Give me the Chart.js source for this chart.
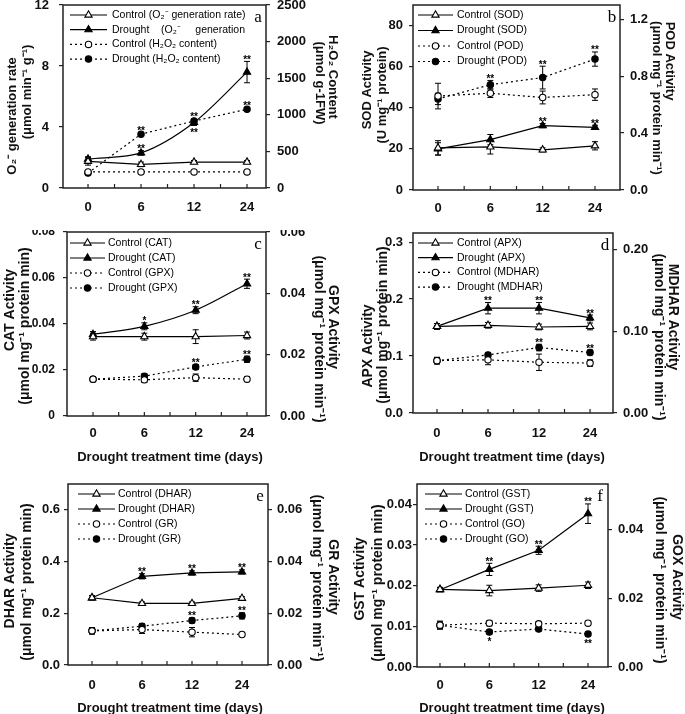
<!DOCTYPE html>
<html>
<head>
<meta charset="utf-8">
<script src="https://cdn.jsdelivr.net/npm/chart.js@4.4.1/dist/chart.umd.min.js"></script>
<style>
  body { margin: 0; background: #fff; width: 685px; height: 714px; position: relative; overflow: hidden; }
  canvas { position: absolute; }
</style>
</head>
<body>
<canvas id="pa" width="342" height="230" style="left:0;top:0"></canvas>
<canvas id="pb" width="343" height="230" style="left:342px;top:0"></canvas>
<canvas id="pc" width="342" height="240" style="left:0;top:230px"></canvas>
<canvas id="pd" width="343" height="240" style="left:342px;top:230px"></canvas>
<canvas id="pe" width="342" height="244" style="left:0;top:470px"></canvas>
<canvas id="pf" width="343" height="244" style="left:342px;top:470px"></canvas>
<script>
// drought treatment time (days)
const days = ['0', '6', '12', '24'];
const xTicks = [0, 0.5, 1, 1.5, 2, 2.5, 3];

// a - O2- generation rate (left) / H2O2 content (right)
const ctrlO2 = [1.75, 1.55, 1.7, 1.7];
const ctrlO2Err = [0.25, 0.15, 0.1, 0.1];
const drO2 = [1.9, 2.3, 4.3, 7.6];
const drO2Err = [0.15, 0.15, 0.2, 0.7];
const drO2Stars = ['', '**', '**', '**'];
const ctrlH2O2 = [220, 220, 220, 220];
const ctrlH2O2Err = [10, 10, 10, 10];
const drH2O2 = [205, 735, 915, 1075];
const drH2O2Err = [15, 20, 30, 20];
const drH2O2Stars = ['', '**', '**', '**'];
const yTicksA = [0, 4, 8, 12];
const y2TicksA = [0, 500, 1000, 1500, 2000, 2500];

// b - SOD (left) / POD (right)
const ctrlSOD = [20.5, 21, 19.5, 21.5];
const ctrlSODErr = [3.5, 3.5, 1, 2];
const drSOD = [20, 24.5, 31.3, 30.5];
const drSODErr = [3, 2.5, 1, 1];
const drSODStars = ['', '', '**', '**'];
const ctrlPOD = [0.66, 0.68, 0.65, 0.67];
const ctrlPODErr = [0.09, 0.03, 0.045, 0.04];
const drPOD = [0.64, 0.74, 0.79, 0.92];
const drPODErr = [0.04, 0.03, 0.08, 0.05];
const drPODStars = ['', '**', '**', '**'];
const yTicksB = [0, 20, 40, 60, 80];
const y2TicksB = [0, 0.4, 0.8, 1.2];

// c - CAT (left) / GPX (right)
const ctrlCAT = [0.0345, 0.0345, 0.0345, 0.035];
const ctrlCATErr = [0.0015, 0.0015, 0.003, 0.0015];
const drCAT = [0.0355, 0.039, 0.046, 0.0575];
const drCATErr = [0.0012, 0.0015, 0.0015, 0.002];
const drCATStars = ['', '*', '**', '**'];
const ctrlGPX = [0.012, 0.0118, 0.0125, 0.012];
const ctrlGPXErr = [0.0008, 0.0009, 0.0012, 0.0008];
const drGPX = [0.012, 0.013, 0.016, 0.0185];
const drGPXErr = [0.0008, 0.0008, 0.0008, 0.001];
const drGPXStars = ['', '', '**', '**'];
const yTicksC = [0, 0.02, 0.04, 0.06, 0.08];
const y2TicksC = [0, 0.02, 0.04, 0.06];

// d - APX (left) / MDHAR (right)
const ctrlAPX = [0.152, 0.154, 0.151, 0.152];
const ctrlAPXErr = [0.005, 0.005, 0.005, 0.006];
const drAPX = [0.152, 0.184, 0.184, 0.167];
const drAPXErr = [0.005, 0.01, 0.01, 0.005];
const drAPXStars = ['', '**', '**', '**'];
const ctrlMDHAR = [0.064, 0.065, 0.062, 0.061];
const ctrlMDHARErr = [0.004, 0.006, 0.01, 0.004];
const drMDHAR = [0.064, 0.071, 0.08, 0.074];
const drMDHARErr = [0.004, 0.003, 0.004, 0.003];
const drMDHARStars = ['', '', '**', '**'];
const yTicksD = [0, 0.1, 0.2, 0.3];
const y2TicksD = [0, 0.1, 0.2];

// e - DHAR (left) / GR (right)
const ctrlDHAR = [0.26, 0.238, 0.238, 0.258];
const ctrlDHARErr = [0.008, 0.006, 0.006, 0.006];
const drDHAR = [0.26, 0.343, 0.356, 0.36];
const drDHARErr = [0.008, 0.01, 0.008, 0.008];
const drDHARStars = ['', '**', '**', '**'];
const ctrlGR = [0.0132, 0.0137, 0.0127, 0.0118];
const ctrlGRErr = [0.0012, 0.0015, 0.0018, 0.0008];
const drGR = [0.0132, 0.015, 0.0172, 0.019];
const drGRErr = [0.0012, 0.001, 0.001, 0.0012];
const drGRStars = ['', '', '**', '**'];
const yTicksE = [0, 0.2, 0.4, 0.6];
const y2TicksE = [0, 0.02, 0.04, 0.06];

// f - GST (left) / GO (right)
const ctrlGST = [0.0191, 0.0188, 0.0194, 0.0201];
const ctrlGSTErr = [0.0005, 0.0013, 0.0008, 0.0008];
const drGST = [0.019, 0.024, 0.0287, 0.0377];
const drGSTErr = [0.0005, 0.0015, 0.001, 0.0024];
const drGSTStars = ['', '**', '**', '**'];
const ctrlGO = [0.0122, 0.0128, 0.0126, 0.0128];
const ctrlGOErr = [0.0012, 0.0008, 0.0006, 0.0006];
const drGO = [0.0122, 0.0102, 0.0111, 0.0096];
const drGOErr = [0.001, 0.0006, 0.0006, 0.0006];
const drGOStars = ['', '*', '', '**'];
const yTicksF = [0, 0.01, 0.02, 0.03, 0.04];
const y2TicksF = [0, 0.02, 0.04];

const FONT = "'Liberation Sans', Arial, sans-serif";

function series(label, vals, err, axis, shape, open, dotted, stars, below, curve) {
  return {
    label, err, stars, below: below || [], yAxisID: axis,
    data: vals.map((v, i) => ({ x: i, y: v })),
    borderColor: '#000', borderWidth: 1.2, borderDash: dotted ? [2, 3] : [],
    pointStyle: shape, pointRadius: shape === 'triangle' ? 4.2 : 3.2,
    pointBackgroundColor: open ? '#fff' : '#000', pointBorderColor: '#000', pointBorderWidth: 1.1,
    tension: curve ? 0.3 : 0, fill: false
  };
}

function yAxis(pos, max, ticks, dec, width, pad, zero, size) {
  return {
    type: 'linear', position: pos, min: 0, max: max,
    afterBuildTicks: s => { s.ticks = ticks.map(v => ({ value: v })); },
    afterFit: s => { s.width = width; s.paddingTop = 0; s.paddingBottom = 0; },
    ticks: {
      callback: v => (zero && v === 0) ? '0' : v.toFixed(dec),
      font: { family: FONT, size: size || 13, weight: 'bold' }, color: '#111', padding: pad
    },
    grid: { drawOnChartArea: false, tickLength: 4, color: '#222', lineWidth: 1.2 },
    border: { display: false }
  };
}

const deco = {
  id: 'deco',
  beforeDatasetsDraw(chart) {
    const ctx = chart.ctx, xs = chart.scales.x;
    ctx.save();
    ctx.strokeStyle = '#000';
    ctx.lineWidth = 1;
    chart.data.datasets.forEach(ds => {
      const ys = chart.scales[ds.yAxisID];
      ds.data.forEach((p, i) => {
        const e = ds.err[i];
        const x = xs.getPixelForValue(p.x);
        const y1 = ys.getPixelForValue(p.y + e), y2 = ys.getPixelForValue(p.y - e);
        ctx.beginPath();
        ctx.moveTo(x, y1); ctx.lineTo(x, y2);
        ctx.moveTo(x - 3, y1); ctx.lineTo(x + 3, y1);
        ctx.moveTo(x - 3, y2); ctx.lineTo(x + 3, y2);
        ctx.stroke();
      });
    });
    ctx.restore();
  },
  afterDraw(chart, args, o) {
    const ctx = chart.ctx, a = chart.chartArea, xs = chart.scales.x;
    ctx.save();
    // frame
    ctx.strokeStyle = '#222';
    ctx.lineWidth = 1.5;
    ctx.strokeRect(a.left, a.top, a.right - a.left, a.bottom - a.top);
    // inward x ticks
    ctx.lineWidth = 1.2;
    xTicks.forEach(v => {
      const x = xs.getPixelForValue(v);
      ctx.beginPath(); ctx.moveTo(x, a.bottom); ctx.lineTo(x, a.bottom - 4); ctx.stroke();
    });
    // significance marks
    ctx.fillStyle = '#000';
    ctx.font = 'bold 10px ' + FONT;
    ctx.textAlign = 'center';
    ctx.textBaseline = 'alphabetic';
    chart.data.datasets.forEach(ds => {
      if (!ds.stars) return;
      const ys = chart.scales[ds.yAxisID];
      ds.data.forEach((p, i) => {
        if (!ds.stars[i]) return;
        const x = xs.getPixelForValue(p.x);
        if (ds.below.includes(i)) {
          ctx.fillText(ds.stars[i], x, ys.getPixelForValue(p.y - ds.err[i]) + 10.5);
        } else {
          ctx.fillText(ds.stars[i], x, ys.getPixelForValue(p.y + ds.err[i]) + 1.5);
        }
      });
    });
    // legend
    const lg = o.legend;
    ctx.textAlign = 'left';
    ctx.textBaseline = 'middle';
    ctx.font = '10.5px ' + FONT;
    chart.data.datasets.forEach((ds, i) => {
      const y = lg.y - o.oy + i * lg.step, x = lg.x - o.ox;
      ctx.strokeStyle = '#000';
      ctx.lineWidth = 1.2;
      ctx.setLineDash(ds.borderDash);
      ctx.beginPath(); ctx.moveTo(x, y); ctx.lineTo(x + lg.len, y); ctx.stroke();
      ctx.setLineDash([]);
      ctx.fillStyle = ds.pointBackgroundColor;
      ctx.lineWidth = 1.1;
      Chart.helpers.drawPoint(ctx, { pointStyle: ds.pointStyle, radius: ds.pointRadius, borderWidth: 1.1, rotation: 0 }, x + lg.len / 2, y);
      ctx.fillStyle = '#000';
      ctx.fillText(ds.label, lg.tx - o.ox, y);
    });
    // panel letter
    ctx.font = '17px "Liberation Serif", serif';
    ctx.textAlign = 'center';
    ctx.fillText(o.letter, a.right - 8, a.top + 13);
    // axis titles
    o.titles.forEach(t => {
      ctx.save();
      ctx.translate(t.x - o.ox, t.y - o.oy);
      ctx.rotate(t.r * Math.PI / 2);
      ctx.font = 'bold ' + (t.s || 13) + 'px ' + FONT;
      ctx.textAlign = 'center';
      ctx.textBaseline = 'middle';
      ctx.fillStyle = '#111';
      ctx.fillText(t.t, 0, 0);
      ctx.restore();
    });
    ctx.restore();
  }
};

function panel(id, box, plot, xr, datasets, yL, yR, xPad, deco_) {
  deco_.ox = box.x; deco_.oy = box.y;
  new Chart(document.getElementById(id), {
    type: 'line',
    data: { datasets },
    plugins: [deco],
    options: {
      responsive: false, animation: false, devicePixelRatio: 1,
      layout: { autoPadding: false, padding: { top: plot.t - box.y, left: 0, right: 0, bottom: 0 } },
      plugins: { legend: { display: false }, tooltip: { enabled: false }, deco: deco_ },
      scales: {
        x: {
          type: 'linear', min: xr[0], max: xr[1],
          afterBuildTicks: s => { s.ticks = xTicks.map(v => ({ value: v })); },
          afterFit: s => { s.height = box.y + box.h - plot.b; s.paddingLeft = 0; s.paddingRight = 0; },
          ticks: {
            autoSkip: false, maxRotation: 0, padding: xPad,
            callback: v => Number.isInteger(v) ? days[v] : '',
            font: { family: FONT, size: 13, weight: 'bold' }, color: '#111'
          },
          grid: { drawOnChartArea: false, drawTicks: false },
          border: { display: false }
        },
        y: yAxis('left', yL.max, yL.ticks, yL.dec, plot.l - box.x, yL.pad, yL.zero, yL.size),
        y2: yAxis('right', yR.max, yR.ticks, yR.dec, box.x + box.w - plot.r, yR.pad, false, yR.size)
      }
    }
  });
}

const xTitle = 'Drought treatment time (days)';
const unitL = '(μmol mg⁻¹ protein min)';
const unitR = '(μmol mg⁻¹ protein min⁻¹)';

panel('pa', { x: 0, y: 0, w: 342, h: 230 }, { l: 63, r: 266, t: 5, b: 188 }, [-0.472, 3.358], [
  series('Control (O₂⁻ generation rate)', ctrlO2, ctrlO2Err, 'y', 'triangle', true, false),
  series('Drought    (O₂⁻     generation', drO2, drO2Err, 'y', 'triangle', false, false, drO2Stars, [2], true),
  series('Control (H₂O₂ content)', ctrlH2O2, ctrlH2O2Err, 'y2', 'circle', true, true),
  series('Drought (H₂O₂ content)', drH2O2, drH2O2Err, 'y2', 'circle', false, true, drH2O2Stars)
], { max: 12, ticks: yTicksA, dec: 0, pad: 10 }, { max: 2500, ticks: y2TicksA, dec: 0, pad: 7 }, 12, {
  letter: 'a',
  legend: { x: 70, y: 15, step: 14.7, len: 37, tx: 112 },
  titles: [
    { t: 'O₂⁻ generation rate', x: 12, y: 116, r: -1 },
    { t: '(μmol min⁻¹ g⁻¹)', x: 27, y: 92, r: -1 },
    { t: 'H₂O₂ Content', x: 333, y: 77, r: 1 },
    { t: '(μmol g-1FW)', x: 320, y: 83, r: 1 }
  ]
});

panel('pb', { x: 342, y: 0, w: 343, h: 230 }, { l: 413, r: 620, t: 5, b: 190 }, [-0.478, 3.478], [
  series('Control (SOD)', ctrlSOD, ctrlSODErr, 'y', 'triangle', true, false),
  series('Drought (SOD)', drSOD, drSODErr, 'y', 'triangle', false, false, drSODStars),
  series('Control (POD)', ctrlPOD, ctrlPODErr, 'y2', 'circle', true, true),
  series('Drought (POD)', drPOD, drPODErr, 'y2', 'circle', false, true, drPODStars)
], { max: 90, ticks: yTicksB, dec: 0, pad: 6 }, { max: 1.3, ticks: y2TicksB, dec: 1, pad: 6 }, 11, {
  letter: 'b',
  legend: { x: 418, y: 15, step: 15.5, len: 35, tx: 457 },
  titles: [
    { t: 'SOD Activity', x: 367, y: 90, r: -1 },
    { t: '(U mg⁻¹ protein)', x: 382, y: 95, r: -1 },
    { t: 'POD Activity', x: 670, y: 61, r: 1 },
    { t: unitR, x: 657, y: 98, r: 1 }
  ]
});

panel('pc', { x: 0, y: 230, w: 342, h: 240 }, { l: 67, r: 266, t: 232, b: 416 }, [-0.507, 3.37], [
  series('Control (CAT)', ctrlCAT, ctrlCATErr, 'y', 'triangle', true, false),
  series('Drought (CAT)', drCAT, drCATErr, 'y', 'triangle', false, false, drCATStars, [], true),
  series('Control (GPX)', ctrlGPX, ctrlGPXErr, 'y2', 'circle', true, true),
  series('Drought (GPX)', drGPX, drGPXErr, 'y2', 'circle', false, true, drGPXStars)
], { max: 0.08, ticks: yTicksC, dec: 2, pad: 8, zero: true, size: 12 }, { max: 0.06, ticks: y2TicksC, dec: 2, pad: 10 }, 10, {
  letter: 'c',
  legend: { x: 70, y: 243, step: 15, len: 35, tx: 108 },
  titles: [
    { t: 'CAT Activity', x: 10, y: 310, r: -1, s: 14 },
    { t: unitL, x: 25, y: 326, r: -1, s: 14 },
    { t: 'GPX Activity', x: 333, y: 327, r: 1, s: 14 },
    { t: unitR, x: 319, y: 339, r: 1, s: 14 },
    { t: xTitle, x: 170, y: 457, r: 0, s: 13 }
  ]
});

panel('pd', { x: 342, y: 230, w: 343, h: 240 }, { l: 413, r: 613, t: 233, b: 413 }, [-0.47, 3.45], [
  series('Control (APX)', ctrlAPX, ctrlAPXErr, 'y', 'triangle', true, false),
  series('Drought (APX)', drAPX, drAPXErr, 'y', 'triangle', false, false, drAPXStars),
  series('Control (MDHAR)', ctrlMDHAR, ctrlMDHARErr, 'y2', 'circle', true, true),
  series('Drought (MDHAR)', drMDHAR, drMDHARErr, 'y2', 'circle', false, true, drMDHARStars)
], { max: 0.316, ticks: yTicksD, dec: 1, pad: 6 }, { max: 0.22, ticks: y2TicksD, dec: 2, pad: 6 }, 13, {
  letter: 'd',
  legend: { x: 418, y: 243, step: 14.7, len: 35, tx: 457 },
  titles: [
    { t: 'APX Activity', x: 368, y: 346, r: -1, s: 14 },
    { t: unitL, x: 383, y: 325, r: -1, s: 14 },
    { t: 'MDHAR Activity', x: 673, y: 317, r: 1, s: 14 },
    { t: unitR, x: 659, y: 337, r: 1, s: 14 },
    { t: xTitle, x: 512, y: 457, r: 0, s: 13 }
  ]
});

panel('pe', { x: 0, y: 470, w: 342, h: 244 }, { l: 68, r: 268, t: 484, b: 665 }, [-0.48, 3.52], [
  series('Control (DHAR)', ctrlDHAR, ctrlDHARErr, 'y', 'triangle', true, false),
  series('Drought (DHAR)', drDHAR, drDHARErr, 'y', 'triangle', false, false, drDHARStars),
  series('Control (GR)', ctrlGR, ctrlGRErr, 'y2', 'circle', true, true),
  series('Drought (GR)', drGR, drGRErr, 'y2', 'circle', false, true, drGRStars)
], { max: 0.70, ticks: yTicksE, dec: 1, pad: 4 }, { max: 0.070, ticks: y2TicksE, dec: 2, pad: 5 }, 13, {
  letter: 'e',
  legend: { x: 78, y: 494, step: 15, len: 37, tx: 118 },
  titles: [
    { t: 'DHAR Activity', x: 10, y: 581, r: -1, s: 14 },
    { t: unitL, x: 27, y: 582, r: -1, s: 14 },
    { t: 'GR Activity', x: 333, y: 577, r: 1, s: 14 },
    { t: unitR, x: 317, y: 578, r: 1, s: 14 },
    { t: xTitle, x: 170, y: 708, r: 0, s: 13 }
  ]
});

panel('pf', { x: 342, y: 470, w: 343, h: 244 }, { l: 417, r: 608, t: 484, b: 667 }, [-0.466, 3.405], [
  series('Control (GST)', ctrlGST, ctrlGSTErr, 'y', 'triangle', true, false),
  series('Drought (GST)', drGST, drGSTErr, 'y', 'triangle', false, false, drGSTStars),
  series('Control (GO)', ctrlGO, ctrlGOErr, 'y2', 'circle', true, true),
  series('Drought (GO)', drGO, drGOErr, 'y2', 'circle', false, true, drGOStars, [1, 3])
], { max: 0.045, ticks: yTicksF, dec: 2, pad: 1 }, { max: 0.0534, ticks: y2TicksF, dec: 2, pad: 6 }, 11, {
  letter: 'f',
  legend: { x: 425, y: 494, step: 15, len: 37, tx: 465 },
  titles: [
    { t: 'GST Activity', x: 360, y: 579, r: -1, s: 14 },
    { t: unitL, x: 378, y: 583, r: -1, s: 14 },
    { t: 'GOX Activity', x: 677, y: 577, r: 1, s: 14 },
    { t: unitR, x: 660, y: 580, r: 1, s: 14 },
    { t: xTitle, x: 512, y: 708, r: 0, s: 13 }
  ]
});
</script>
</body>
</html>
